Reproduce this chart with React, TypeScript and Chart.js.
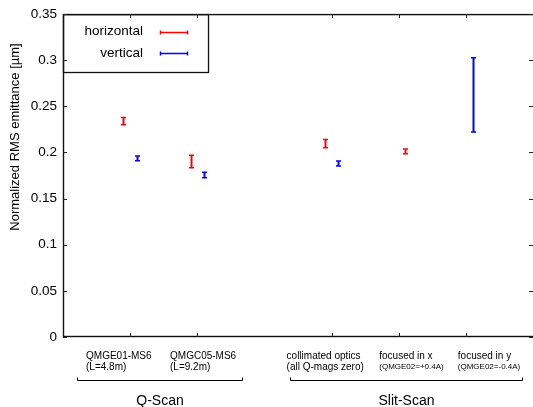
import React, { useEffect, useRef } from 'react';
import { Chart, registerables } from 'chart.js';

Chart.register(...registerables);

// ---- data ----
const horizontalX = [0.9, 1.9, 3.9, 5.1];
const horizontalY = [0.234, 0.1902, 0.2097, 0.2012];
const horizontalErr = [0.004, 0.0067, 0.0045, 0.0025];

const verticalX = [1.1, 2.1, 4.1, 6.1];
const verticalY = [0.1936, 0.1757, 0.188, 0.2624];
const verticalErr = [0.0025, 0.003, 0.0027, 0.0403];

const tickPositions = [1, 2, 4, 5, 6];
const labelLine1 = ['QMGE01-MS6', 'QMGC05-MS6', 'collimated optics', 'focused in x', 'focused in y'];
const labelLine2 = ['(L=4.8m)', '(L=9.2m)', '(all Q-mags zero)', '(QMGE02=+0.4A)', '(QMGE02=-0.4A)'];
const labelSmallLine2 = [false, false, false, true, true];
const labelAnchorX = [0.343, 1.594, 3.33, 4.71, 5.88];

const groupNames = ['Q-Scan', 'Slit-Scan'];
const groupStart = [0.21, 3.38];
const groupEnd = [2.67, 6.84];

const seriesNames = ['horizontal', 'vertical'];
const seriesColors = ['#ff0000', '#0000ff'];

const yTitle = 'Normalized RMS emittance [\u00b5m]';

const FONT = '"Liberation Sans", Arial, Helvetica, sans-serif';

const drawPlugin = {
  id: 'gnuplotLike',
  afterDraw(chart: any) {
    const ctx = chart.ctx as CanvasRenderingContext2D;
    const ca = chart.chartArea;
    const xs = chart.scales.x;
    const ys = chart.scales.y;
    ctx.save();

    // error bars
    const series = [
      { x: horizontalX, y: horizontalY, e: horizontalErr, c: seriesColors[0] },
      { x: verticalX, y: verticalY, e: verticalErr, c: seriesColors[1] },
    ];
    for (const s of series) {
      ctx.strokeStyle = s.c;
      for (let i = 0; i < s.x.length; i++) {
        const px = Math.round(xs.getPixelForValue(s.x[i])) + 0.5;
        const y1 = ys.getPixelForValue(s.y[i] - s.e[i]);
        const y2 = ys.getPixelForValue(s.y[i] + s.e[i]);
        ctx.lineWidth = 2;
        ctx.beginPath();
        ctx.moveTo(px, y1);
        ctx.lineTo(px, y2);
        ctx.stroke();
        ctx.lineWidth = 1.5;
        ctx.beginPath();
        ctx.moveTo(px - 2.5, y1);
        ctx.lineTo(px + 2.5, y1);
        ctx.moveTo(px - 2.5, y2);
        ctx.lineTo(px + 2.5, y2);
        ctx.stroke();
      }
    }

    // legend box
    const lgRight = 208;
    const lgBottom = 72;
    ctx.fillStyle = '#fff';
    ctx.fillRect(ca.left, ca.top, lgRight - ca.left, lgBottom - ca.top);
    ctx.strokeStyle = '#111';
    ctx.lineWidth = 1.3;
    ctx.strokeRect(ca.left + 0.5, ca.top + 0.5, lgRight - ca.left, lgBottom - ca.top);
    ctx.font = `13.5px ${FONT}`;
    ctx.textAlign = 'right';
    ctx.textBaseline = 'middle';
    const lgY = [ca.top + 17.5, ca.top + 39];
    for (let i = 0; i < seriesNames.length; i++) {
      ctx.fillStyle = '#000';
      ctx.fillText(seriesNames[i], 143, lgY[i]);
      ctx.strokeStyle = seriesColors[i];
      ctx.lineWidth = 1.5;
      const yy = Math.round(lgY[i]) + 0.5;
      ctx.beginPath();
      ctx.moveTo(160, yy);
      ctx.lineTo(188, yy);
      ctx.moveTo(160.5, yy - 2);
      ctx.lineTo(160.5, yy + 2);
      ctx.moveTo(187.5, yy - 2);
      ctx.lineTo(187.5, yy + 2);
      ctx.stroke();
    }

    // plot border (right edge falls just outside the visible area, as in the reference)
    ctx.strokeStyle = '#111';
    ctx.lineWidth = 1.4;
    ctx.strokeRect(ca.left + 0.5, ca.top + 0.5, ca.right - ca.left + 1, ca.bottom - ca.top - 1);

    // inward ticks
    ctx.lineWidth = 1;
    ctx.strokeStyle = '#222';
    ctx.beginPath();
    const yTicks = ys.ticks.map((t: any) => t.value);
    for (const v of yTicks) {
      const py = Math.round(ys.getPixelForValue(v)) + 0.5;
      ctx.moveTo(ca.left, py);
      ctx.lineTo(ca.left + 4, py);
      ctx.moveTo(ca.right, py);
      ctx.lineTo(ca.right - 4, py);
    }
    for (const v of tickPositions) {
      const px = Math.round(xs.getPixelForValue(v)) + 0.5;
      ctx.moveTo(px, ca.bottom);
      ctx.lineTo(px, ca.bottom - 4);
      ctx.moveTo(px, ca.top);
      ctx.lineTo(px, ca.top + 4);
    }
    ctx.stroke();

    // x category labels
    ctx.fillStyle = '#000';
    ctx.textAlign = 'left';
    ctx.textBaseline = 'middle';
    for (let i = 0; i < labelLine1.length; i++) {
      const px = xs.getPixelForValue(labelAnchorX[i]);
      ctx.font = `10px ${FONT}`;
      ctx.fillText(labelLine1[i], px, ca.bottom + 19);
      ctx.font = labelSmallLine2[i] ? `8px ${FONT}` : `10px ${FONT}`;
      ctx.fillText(labelLine2[i], px, ca.bottom + 30);
    }

    // group brackets
    ctx.lineWidth = 1;
    ctx.strokeStyle = '#000';
    for (let i = 0; i < groupNames.length; i++) {
      const x1 = Math.round(xs.getPixelForValue(groupStart[i])) + 0.5;
      const x2 = Math.round(xs.getPixelForValue(groupEnd[i])) + 0.5;
      const by = ca.bottom + 43.5;
      ctx.beginPath();
      ctx.moveTo(x1, by - 3);
      ctx.lineTo(x1, by);
      ctx.lineTo(x2, by);
      ctx.lineTo(x2, by - 3);
      ctx.stroke();
      ctx.font = `14px ${FONT}`;
      ctx.textAlign = 'center';
      ctx.fillText(groupNames[i], (x1 + x2) / 2, ca.bottom + 64);
    }

    // y title
    ctx.save();
    ctx.translate(15, 137);
    ctx.rotate(-Math.PI / 2);
    ctx.font = `13px ${FONT}`;
    ctx.textAlign = 'center';
    ctx.textBaseline = 'middle';
    ctx.fillStyle = '#000';
    ctx.fillText(yTitle, 0, 0);
    ctx.restore();

    ctx.restore();
  },
};

export default function App() {
  const ref = useRef<HTMLCanvasElement>(null);
  useEffect(() => {
    if (!ref.current) return;
    const chart = new Chart(ref.current, {
      type: 'scatter',
      data: {
        datasets: [
          {
            label: seriesNames[0],
            data: horizontalX.map((x, i) => ({ x, y: horizontalY[i] })),
            pointRadius: 0,
            borderColor: seriesColors[0],
            backgroundColor: seriesColors[0],
          },
          {
            label: seriesNames[1],
            data: verticalX.map((x, i) => ({ x, y: verticalY[i] })),
            pointRadius: 0,
            borderColor: seriesColors[1],
            backgroundColor: seriesColors[1],
          },
        ],
      },
      options: {
        responsive: false,
        animation: false,
        devicePixelRatio: 1,
        layout: { padding: { top: 14, right: 2, bottom: 70, left: 0 } },
        plugins: { legend: { display: false }, tooltip: { enabled: false } },
        scales: {
          x: { type: 'linear', min: 0, max: 7, display: false },
          y: {
            type: 'linear',
            min: 0,
            max: 0.35,
            afterFit: (s: any) => {
              s.width = 63;
            },
            grid: { display: false, drawTicks: false },
            border: { display: false },
            ticks: {
              stepSize: 0.05,
              padding: 6,
              color: '#000',
              font: { family: FONT, size: 13.5 },
              callback: (v: any) => String(Number(Number(v).toFixed(2))),
            },
          },
        },
      },
      plugins: [drawPlugin],
    });
    return () => chart.destroy();
  }, []);
  return (
    <div style={{ position: 'absolute', left: 0, top: 0, width: 533, height: 407, overflow: 'hidden', background: '#fff' }}>
      <canvas ref={ref} width={535} height={407} style={{ width: 535, height: 407, display: 'block' }} />
    </div>
  );
}
